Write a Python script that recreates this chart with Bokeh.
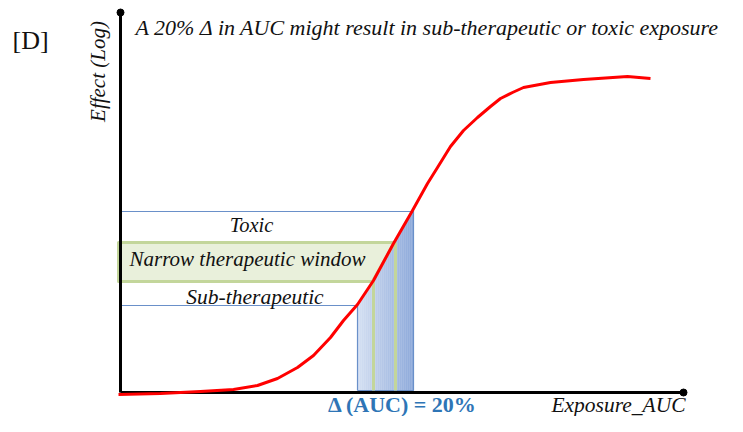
import numpy as np
from bokeh.plotting import figure
from bokeh.models import Range1d, Label
from bokeh.embed import file_html
from bokeh.resources import INLINE

# Exposure (AUC) vs effect (log) (arbitrary units)
curve_x = [-2, 40, 80, 113, 137, 157, 177, 193, 210, 223, 237, 253, 273, 292, 307, 317, 330,
           343, 357, 370, 380, 392, 403, 430, 463, 507, 530]
curve_y = [-2, -1, 1, 3, 7, 14, 25, 37, 55, 72, 88, 112, 149, 182, 209, 225, 246,
           262, 275, 286, 294, 300, 305, 310, 313, 316, 314]

sub_therapeutic_level = 87
toxic_level = 181
window_low = 111
window_high = 150
auc_low = 237
auc_high = 293
window_auc_low = 253
window_auc_high = 275
x_axis_end = 563
y_axis_end = 380

SERIF = "Liberation Serif"

p = figure(width=727, height=416, output_backend="svg", toolbar_location=None,
           x_range=Range1d(-120, 607), y_range=Range1d(-24, 392), min_border=0)
p.axis.visible = False
p.grid.visible = False
p.outline_line_color = None
p.background_fill_color = "white"

# gradient-filled AUC region (strips)
n = 28
edges = np.linspace(auc_low, auc_high, n + 1)
c0 = np.array([0xd4, 0xdf, 0xf2])
c1 = np.array([0x8f, 0xab, 0xdb])
xs, ys, cols = [], [], []
for i in range(n):
    a, b = edges[i], edges[i + 1]
    ta, tb = np.interp(a, curve_x, curve_y), np.interp(b, curve_x, curve_y)
    xs.append([a, b + 0.3, b + 0.3, a])
    ys.append([2, 2, tb, ta])
    c = (c0 + (c1 - c0) * i / (n - 1)).astype(int)
    cols.append("#%02x%02x%02x" % tuple(c))
p.patches(xs, ys, fill_color=cols, line_color=None)
top_x = [auc_low] + [x for x in curve_x if auc_low < x < auc_high] + [auc_high]
top_y = [float(np.interp(x, curve_x, curve_y)) for x in top_x]
p.line([auc_low] + top_x + [auc_high, auc_low], [2] + top_y + [2, 2],
       line_color="#6a90c9", line_width=1.2)

# toxic / sub-therapeutic thresholds
p.line([0, auc_high], [toxic_level, toxic_level], line_color="#6a90c9", line_width=1.2)
p.line([0, auc_low], [sub_therapeutic_level, sub_therapeutic_level], line_color="#6a90c9", line_width=1.2)

# narrow therapeutic window band
p.patch([-2, window_auc_high - 1, window_auc_low - 1, -2],
        [window_high, window_high, window_low, window_low],
        fill_color="#e9f0db", line_color="#c3d69b", line_width=3, line_join="round")
p.line([window_auc_low, window_auc_low], [2, window_low], line_color="#c3d69b", line_width=3)
p.line([window_auc_high, window_auc_high], [2, window_high], line_color="#c3d69b", line_width=3)

# axes
p.line([0, 0], [0, y_axis_end], line_color="black", line_width=3)
p.line([0, x_axis_end], [0, 0], line_color="black", line_width=3)
p.scatter([0, x_axis_end], [y_axis_end, 0], size=7, color="black")

# dose-response curve
p.line(curve_x, curve_y, line_color="#ff0000", line_width=3, line_join="round")

def lab(x, y, t, size, align="left", style="italic", color="#111111", angle=0):
    p.add_layout(Label(x=x, y=y, text=t, text_font=SERIF, text_font_size=size, text_font_style=style,
                       text_align=align, text_baseline="middle", text_color=color, angle=angle))

lab(15, 365, "A  20% Δ in AUC might result in sub-therapeutic or toxic exposure", "22px")
lab(-108, 352, "[D]", "26px", style="normal")
lab(-23, 321, "Effect (Log)", "21px", align="center", angle=np.pi / 2)
lab(131, 168, "Toxic", "20.5px", align="center")
lab(9, 134, "Narrow therapeutic window", "21px")
lab(134.5, 96, "Sub-therapeutic", "21.5px", align="center")
lab(498, -12, "Exposure_AUC", "21.5px", align="center")
lab(282, -12, "Δ (AUC) = 20%", "22px", align="center", style="bold", color="#2E75B6")

open("out.html", "w").write(file_html(p, INLINE))
